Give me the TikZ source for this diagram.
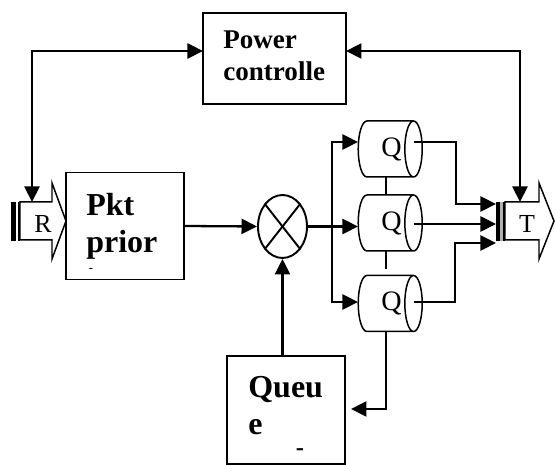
\documentclass[tikz,border=0pt]{standalone}
\usepackage{fontspec}
\setmainfont{Liberation Serif}
\usetikzlibrary{shapes.geometric, arrows.meta}
\tikzset{
    blockbox/.style = {draw, line width=1pt, minimum width=2.36cm, minimum height=2.14cm, inner sep=0pt},
    bigtext/.style = {anchor=north west, align=left, inner sep=0pt, font=\bfseries\fontsize{18.2}{21.3}\selectfont},
    sig/.style = {draw, line width=1.3pt, -{Triangle[length=3.1mm,width=3mm]}},
    sigboth/.style = {draw, line width=1.3pt, {Triangle[length=3.1mm,width=3mm]}-{Triangle[length=3.1mm,width=3mm]}},
    wire/.style = {draw, line width=1.1pt},
    queuecyl/.style = {draw, line width=0.85pt, cylinder, shape aspect=0.75, minimum height=1.28cm, minimum width=1.12cm, inner sep=0pt, font=\fontsize{16}{18}\selectfont},
    portarrow/.style = {draw, line width=0.85pt},
    portlabel/.style = {inner sep=0pt, font=\fontsize{14.8}{16}\selectfont},
}
\begin{document}
\begin{tikzpicture}
    \useasboundingbox (0, 0) rectangle (11.1, -9.3);
    % boxes
    \node[blockbox, minimum width=2.86cm, minimum height=1.82cm] (Power) at (5.49, -1.17) {};
    \node[blockbox] (Pkt) at (2.5, -4.52) {};
    \node[blockbox, minimum height=2.16cm] (Queue) at (5.72, -8.2) {};
    \node[anchor=north west, align=left, inner sep=0pt, font=\bfseries\fontsize{15.4}{18}\selectfont] (PowerText) at (4.46, -0.61) {Power\\controlle};
    \begin{scope}
        \clip (1.34, -3.46) rectangle (3.66, -5.38);
        \node[bigtext] (PktText) at (1.72, -3.86) {Pkt\\prior\\ity};
    \end{scope}
    \node[bigtext] (QueueText) at (4.96, -7.51) {Queu\\e};
    \node[inner sep=0pt, font=\bfseries\fontsize{14}{16}\selectfont] (QueueDash) at (6.0, -9.05) {-};
    % mixer
    \node[draw, ellipse, line width=1.1pt, minimum width=0.98cm, minimum height=1.26cm, inner sep=0pt] (Mix) at (5.65, -4.53) {};
    \draw[wire] (Mix.north west) -- (Mix.south east);
    \draw[wire] (Mix.north east) -- (Mix.south west);
    % queues
    \node[queuecyl] (Qa) at (7.71, -2.98) {\hspace*{0.24cm}Q};
    \node[queuecyl] (Qb) at (7.71, -4.46) {\hspace*{0.24cm}Q};
    \node[queuecyl] (Qc) at (7.71, -6.07) {\hspace*{0.24cm}Q};
    % ports
    \draw[portarrow] (0.4, -4.04) -- (1.04, -4.04) -- (1.04, -3.66) -- (1.32, -4.42) -- (1.04, -5.18) -- (1.04, -4.8) -- (0.4, -4.8) -- cycle;
    \draw[portarrow] (10.1, -4.04) -- (10.78, -4.04) -- (10.78, -3.66) -- (11.08, -4.42) -- (10.78, -5.18) -- (10.78, -4.8) -- (10.1, -4.8) -- cycle;
    \node[portlabel] (Rlabel) at (0.86, -4.48) {R};
    \node[portlabel] (Tlabel) at (10.54, -4.48) {T};
    \fill (0.22, -4.04) rectangle (0.32, -4.82);
    \fill (0.36, -4.04) rectangle (0.4, -4.82);
    \fill[gray!60] (9.92, -4.04) rectangle (10.1, -4.82);
    \fill (9.92, -4.04) rectangle (10.0, -4.82);
    \fill (10.06, -4.04) rectangle (10.1, -4.82);
    % free ends
    \coordinate (Pw) at (4.06, -1.02);
    \coordinate (Pe) at (6.92, -1.02);
    \coordinate (Rin) at (0.64, -4.04);
    \coordinate (Tin) at (10.4, -4.04);
    \coordinate (Bus) at (6.64, -4.53);
    \coordinate (Qain) at (7.16, -2.84);
    \coordinate (Qbin) at (7.16, -4.53);
    \coordinate (Qcin) at (7.16, -6.04);
    \coordinate (Qaout) at (8.28, -2.84);
    \coordinate (Qbout) at (8.28, -4.48);
    \coordinate (Qcout) at (8.28, -6.04);
    \coordinate (Ta) at (9.92, -4.08);
    \coordinate (Tb) at (9.92, -4.48);
    \coordinate (Tc) at (9.92, -4.86);
    \coordinate (Qcdown) at (7.72, -6.64);
    \coordinate (Qin) at (7.02, -8.18);
    % connectors
    \draw[sigboth] (Rin) |- (Pw);
    \draw[sigboth] (Tin) |- (Pe);
    \draw[sig] (Pkt.east) -- (Mix.west);
    \draw[sig] (Mix.east) -- (Qbin);
    \draw[sig] (Bus) |- (Qain);
    \draw[sig] (Bus) |- (Qcin);
    \draw[sig] (Qaout) -| (9.12, -3.5) |- (Ta);
    \draw[sig] (Qbout) -- (Tb);
    \draw[sig] (Qcout) -| (9.1, -5.5) |- (Tc);
    \draw[sig] (Qcdown) |- (Qin);
    \draw[sig] (Mix.south |- Queue.north) -- (Mix.south);
    \draw[wire] (7.72, -3.54) -- (7.72, -3.9);
    \draw[wire] (7.72, -5.02) -- (7.72, -5.38);
\end{tikzpicture}
\end{document}
